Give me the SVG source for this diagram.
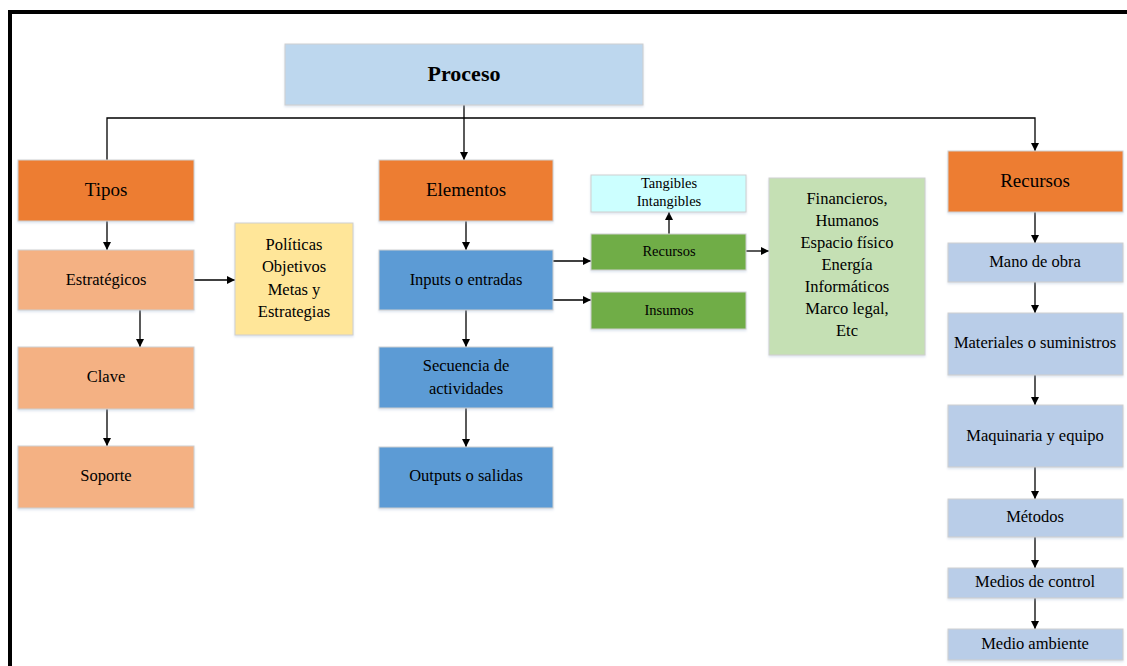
<svg xmlns="http://www.w3.org/2000/svg" width="1127" height="666" viewBox="0 0 1127 666">
  <defs>
    <marker id="arr" markerUnits="userSpaceOnUse" markerWidth="8" markerHeight="8" viewBox="0 0 8 8" refX="8" refY="4" orient="auto">
      <path d="M0,0 L8,4 L0,8 z" fill="#000"/>
    </marker>
    <filter id="sh" x="-5%" y="-5%" width="110%" height="120%">
      <feDropShadow dx="0" dy="1.5" stdDeviation="1" flood-color="#9db4d0" flood-opacity="0.35"/>
    </filter>
  </defs>
  <style>
    .box { stroke: #cfcfcf; stroke-width: 1; filter: url(#sh); }
    text { font-family: 'Liberation Serif', 'DejaVu Serif', serif; font-size: 16.5px; fill: #000; text-anchor: middle; }
    .big { font-size: 19px; }
    .sm { font-size: 14.5px; }
    .c { fill: none; stroke: #000; stroke-width: 1.3; }
    .orange { fill: #ED7D31; }
    .peach { fill: #F4B183; }
    .yellow { fill: #FFE699; }
    .blue { fill: #5B9BD5; }
    .sky { fill: #BDD7EE; }
    .cyan { fill: #CCFFFF; }
    .green { fill: #70AD47; }
    .lgreen { fill: #C5E0B4; }
    .lav { fill: #B9CDE8; }
  </style>
  <rect width="1127" height="666" fill="#fff"/>
  <!-- frame -->
  <path d="M10,666 L10,12 L1127,12" fill="none" stroke="#000" stroke-width="4"/>

  <g id="connectors">
    <path class="c" d="M464,105 L464,160" marker-end="url(#arr)"/>
    <path class="c" d="M107,160 L107,118 L1035,118 L1035,151" marker-end="url(#arr)"/>
    <path class="c" d="M107,221 L107,250" marker-end="url(#arr)"/>
    <path class="c" d="M140,310 L140,347" marker-end="url(#arr)"/>
    <path class="c" d="M107,409 L107,446" marker-end="url(#arr)"/>
    <path class="c" d="M194,280 L235,280" marker-end="url(#arr)"/>
    <path class="c" d="M466,221 L466,250" marker-end="url(#arr)"/>
    <path class="c" d="M466,310 L466,347" marker-end="url(#arr)"/>
    <path class="c" d="M466,408 L466,447" marker-end="url(#arr)"/>
    <path class="c" d="M553,261 L591,261" marker-end="url(#arr)"/>
    <path class="c" d="M553,300 L591,300" marker-end="url(#arr)"/>
    <path class="c" d="M669,234 L669,212" marker-end="url(#arr)"/>
    <path class="c" d="M746,251 L769,251" marker-end="url(#arr)"/>
    <path class="c" d="M1035,212 L1035,243" marker-end="url(#arr)"/>
    <path class="c" d="M1035,282 L1035,313" marker-end="url(#arr)"/>
    <path class="c" d="M1035,375 L1035,405" marker-end="url(#arr)"/>
    <path class="c" d="M1035,467 L1035,499" marker-end="url(#arr)"/>
    <path class="c" d="M1035,537 L1035,568" marker-end="url(#arr)"/>
    <path class="c" d="M1035,598 L1035,629" marker-end="url(#arr)"/>
  </g>

  <g id="proceso">
    <rect class="box sky" x="285" y="44" width="358" height="61"/>
    <text x="464" y="81" font-weight="bold" style="font-size:22px">Proceso</text>
  </g>

  <g id="tipos">
    <rect class="box orange" x="18" y="160" width="176" height="61"/>
    <text class="big" x="106" y="196">Tipos</text>
  </g>
  <g id="estrategicos">
    <rect class="box peach" x="18" y="250" width="176" height="60"/>
    <text x="106" y="285">Estratégicos</text>
  </g>
  <g id="clave">
    <rect class="box peach" x="18" y="347" width="176" height="62"/>
    <text x="106" y="382">Clave</text>
  </g>
  <g id="soporte">
    <rect class="box peach" x="18" y="446" width="176" height="62"/>
    <text x="106" y="481">Soporte</text>
  </g>
  <g id="politicas">
    <rect class="box yellow" x="235" y="223" width="118" height="112"/>
    <text x="294" y="250">Políticas</text>
    <text x="294" y="272">Objetivos</text>
    <text x="294" y="295">Metas y</text>
    <text x="294" y="317">Estrategias</text>
  </g>

  <g id="elementos">
    <rect class="box orange" x="379" y="160" width="174" height="61"/>
    <text class="big" x="466" y="196">Elementos</text>
  </g>
  <g id="inputs">
    <rect class="box blue" x="379" y="250" width="174" height="60"/>
    <text x="466" y="285">Inputs o entradas</text>
  </g>
  <g id="secuencia">
    <rect class="box blue" x="379" y="347" width="174" height="61"/>
    <text x="466" y="371">Secuencia de</text>
    <text x="466" y="394">actividades</text>
  </g>
  <g id="outputs">
    <rect class="box blue" x="379" y="447" width="174" height="61"/>
    <text x="466" y="481">Outputs o salidas</text>
  </g>

  <g id="tangibles">
    <rect class="box cyan" x="591" y="175" width="155" height="37"/>
    <text class="sm" x="669" y="188">Tangibles</text>
    <text class="sm" x="669" y="206">Intangibles</text>
  </g>
  <g id="recursos-green">
    <rect class="box green" x="591" y="234" width="155" height="36"/>
    <text class="sm" x="669" y="256">Recursos</text>
  </g>
  <g id="insumos">
    <rect class="box green" x="591" y="292" width="155" height="37"/>
    <text class="sm" x="669" y="315">Insumos</text>
  </g>
  <g id="financieros">
    <rect class="box lgreen" x="769" y="178" width="156" height="177"/>
    <text x="847" y="204">Financieros,</text>
    <text x="847" y="226">Humanos</text>
    <text x="847" y="248">Espacio físico</text>
    <text x="847" y="270">Energía</text>
    <text x="847" y="292">Informáticos</text>
    <text x="847" y="314">Marco legal,</text>
    <text x="847" y="336">Etc</text>
  </g>

  <g id="recursos">
    <rect class="box orange" x="948" y="151" width="175" height="61"/>
    <text class="big" x="1035" y="187">Recursos</text>
  </g>
  <g id="mano-de-obra">
    <rect class="box lav" x="948" y="243" width="175" height="39"/>
    <text x="1035" y="267">Mano de obra</text>
  </g>
  <g id="materiales">
    <rect class="box lav" x="948" y="313" width="175" height="62"/>
    <text x="1035" y="348">Materiales o suministros</text>
  </g>
  <g id="maquinaria">
    <rect class="box lav" x="948" y="405" width="175" height="62"/>
    <text x="1035" y="441">Maquinaria y equipo</text>
  </g>
  <g id="metodos">
    <rect class="box lav" x="948" y="499" width="175" height="38"/>
    <text x="1035" y="522">Métodos</text>
  </g>
  <g id="medios-de-control">
    <rect class="box lav" x="948" y="568" width="175" height="30"/>
    <text x="1035" y="587">Medios de control</text>
  </g>
  <g id="medio-ambiente">
    <rect class="box lav" x="948" y="629" width="175" height="31"/>
    <text x="1035" y="649">Medio ambiente</text>
  </g>
</svg>
